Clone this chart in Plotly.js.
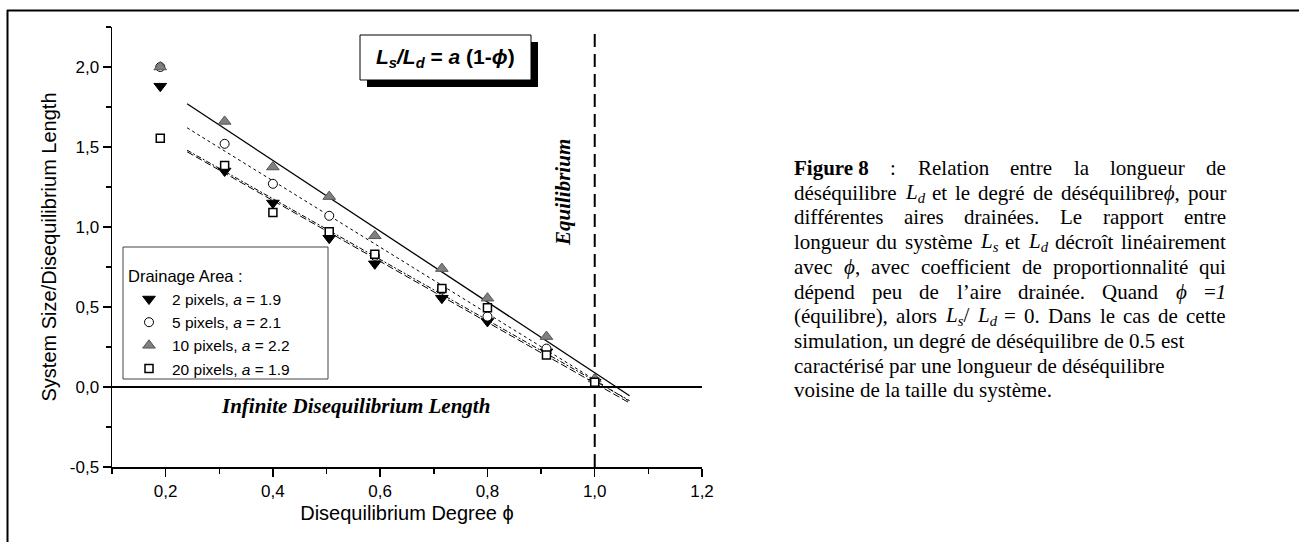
<!DOCTYPE html>
<html>
<head>
<meta charset="utf-8">
<script src="https://cdn.plot.ly/plotly-3.0.1.min.js"></script>
<style>html,body{margin:0;padding:0;background:#fff;} #chart{width:1299px;height:542px;}</style>
</head>
<body>
<div id="chart"></div>
<script>
// ---- data ----
const phi   = [0.19, 0.31, 0.40, 0.505, 0.59, 0.715, 0.80, 0.91, 1.0];
const px2   = [1.88, 1.35, 1.15, 0.93, 0.77, 0.555, 0.41, 0.22, 0.03];
const px5   = [2.00, 1.52, 1.27, 1.07, 0.82, 0.61, 0.44, 0.24, 0.04];
const px10  = [2.00, 1.66, 1.375, 1.19, 0.945, 0.74, 0.555, 0.315, 0.05];
const px20  = [1.555, 1.385, 1.09, 0.97, 0.83, 0.615, 0.495, 0.20, 0.03];
const fitPhi  = [0.24, 1.065];
const fit2    = [1.47, -0.10];
const fit5    = [1.62, -0.09];
const fit10   = [1.77, -0.055];
const fit20   = [1.48, -0.085];
const seriesNames = ["2 pixels, <i>a</i> = 1.9", "5 pixels, <i>a</i> = 2.1", "10 pixels, <i>a</i> = 2.2", "20 pixels, <i>a</i> = 1.9"];
const equilibriumPhi = [1.0, 1.0];
const equilibriumY = [-0.5, 2.25];
const zeroPhi = [0.1, 1.2];
const zeroY = [0, 0];
const xTickVals = [0.2, 0.4, 0.6, 0.8, 1.0, 1.2];
const xTickText = ["0,2", "0,4", "0,6", "0,8", "1,0", "1,2"];
const yTickVals = [-0.5, 0, 0.5, 1.0, 1.5, 2.0];
const yTickText = ["-0,5", "0,0", "0,5", "1,0", "1,5", "2,0"];

const captionJustified = [
  ["<b>Figure 8</b>", ":", "Relation", "entre", "la", "longueur", "de"],
  ["déséquilibre", "<i>L</i><sub><i>d</i></sub>", "et", "le", "degré", "de", "déséquilibre<i>ϕ</i>,", "pour"],
  ["différentes", "aires", "drainées.", "Le", "rapport", "entre"],
  ["longueur", "du", "système", "<i>L</i><sub><i>s</i></sub>", "et", "<i>L</i><sub><i>d</i></sub>", "décroît", "linéairement"],
  ["avec", "<i>ϕ</i>,", "avec", "coefficient", "de", "proportionnalité", "qui"],
  ["dépend", "peu", "de", "l’aire", "drainée.", "Quand", "<i>ϕ</i>", "=<i>1</i>"],
  ["(équilibre),", "alors", "<i>L</i><sub><i>s</i></sub>/", "<i>L</i><sub><i>d</i></sub>", "=", "0.", "Dans", "le", "cas", "de", "cette"]
];
const captionLeft = [
  ["simulation,", "un", "degré", "de", "déséquilibre", "de", "0.5", "est"],
  ["caractérisé", "par", "une", "longueur", "de", "déséquilibre"],
  ["voisine", "de", "la", "taille", "du", "système."]
];

// ---- geometry helpers (pixel -> paper) ----
const W = 1299, H = 542;
const L = 112, R = 702, T = 27, B = 467;
const px = v => (v - L) / (R - L);
const py = v => (B - v) / (B - T);

const SANS = 'Arial, "Liberation Sans", sans-serif';
const SERIF = '"Times New Roman", "Liberation Serif", serif';

const traces = [
  {x: fitPhi, y: fit2, mode: 'lines', line: {color: '#000', width: 1, dash: '7px,3px'}, showlegend: false, hoverinfo: 'skip'},
  {x: fitPhi, y: fit5, mode: 'lines', line: {color: '#000', width: 1, dash: 'dot'}, showlegend: false, hoverinfo: 'skip'},
  {x: fitPhi, y: fit10, mode: 'lines', line: {color: '#000', width: 1.3}, showlegend: false, hoverinfo: 'skip'},
  {x: fitPhi, y: fit20, mode: 'lines', line: {color: '#000', width: 1, dash: '5px,2px,2px,2px'}, showlegend: false, hoverinfo: 'skip'},
  {x: zeroPhi, y: zeroY, mode: 'lines', line: {color: '#000', width: 2}, showlegend: false, hoverinfo: 'skip'},
  {x: equilibriumPhi, y: equilibriumY, mode: 'lines', line: {color: '#000', width: 2, dash: '13px,7px'}, showlegend: false, hoverinfo: 'skip'},
  {x: phi, y: px2, name: seriesNames[0], mode: 'markers',
   marker: {symbol: 'triangle-down', size: 11, color: '#000', line: {color: '#000', width: 1}}},
  {x: phi, y: px5, name: seriesNames[1], mode: 'markers',
   marker: {symbol: 'circle', size: 9, color: '#fff', line: {color: '#000', width: 1}}},
  {x: phi, y: px10, name: seriesNames[2], mode: 'markers',
   marker: {symbol: 'triangle-up', size: 11, color: '#808080', line: {color: '#555', width: 1}}},
  {x: phi, y: px20, name: seriesNames[3], mode: 'markers',
   marker: {symbol: 'square', size: 8, color: '#fff', line: {color: '#000', width: 1.5}}}
];

const shapes = [
  // outer frame (top and left rules)
  {type: 'line', xref: 'paper', yref: 'paper', x0: px(7), x1: px(1299), y0: py(10.5), y1: py(10.5), line: {color: '#000', width: 2}},
  {type: 'line', xref: 'paper', yref: 'paper', x0: px(7.5), x1: px(7.5), y0: py(10), y1: py(542), line: {color: '#000', width: 2}},
  // equation box with shadow
  {type: 'rect', xref: 'paper', yref: 'paper', x0: px(367), x1: px(538), y0: py(87), y1: py(42), fillcolor: '#000', line: {width: 0}},
  {type: 'rect', xref: 'paper', yref: 'paper', x0: px(360), x1: px(531), y0: py(80), y1: py(35), fillcolor: '#fff', line: {color: '#000', width: 1}},
  // legend frame
  {type: 'rect', xref: 'paper', yref: 'paper', layer: 'above', x0: px(123), x1: px(328), y0: py(379), y1: py(247), fillcolor: '#fff', line: {color: '#444', width: 1}}
];

const annotations = [
  {xref: 'paper', yref: 'paper', x: px(445), y: py(58), showarrow: false, xanchor: 'center', yanchor: 'middle',
   text: '<b><i>L</i><sub><i>s</i></sub><i>/L</i><sub><i>d</i></sub> = <i>a</i> (1-<i>ϕ</i>)</b>',
   font: {family: SANS, size: 21, color: '#000'}},
  {xref: 'paper', yref: 'paper', x: px(577), y: py(193), showarrow: false, textangle: -90,
   text: '<b><i>Equilibrium</i></b>', font: {family: SERIF, size: 21, color: '#000'}},
  {xref: 'paper', yref: 'paper', x: px(355), y: py(406), showarrow: false, yanchor: 'middle',
   text: '<b><i>Infinite Disequilibrium Length</i></b>', font: {family: SERIF, size: 21, color: '#000'}}
];

// ---- caption (justified) ----
const capFont = 21, capLeft = 793, capRight = 1225, capTop = 168, capStep = 24.7;
const cv = document.createElement('canvas').getContext('2d');
function measure(tok) {
  let b = false, i = false, sub = false, w = 0;
  const re = /<(\/?)(b|i|sub)>|([^<]+)/g; let m;
  while ((m = re.exec(tok)) !== null) {
    if (m[2]) {
      const on = m[1] !== '/';
      if (m[2] === 'b') b = on; else if (m[2] === 'i') i = on; else sub = on;
    } else {
      const s = sub ? capFont * 0.7 : capFont;
      cv.font = (i ? 'italic ' : '') + (b ? 'bold ' : '') + s + 'px "Liberation Serif"';
      w += cv.measureText(m[3]).width;
    }
  }
  return w;
}
function addLine(tokens, row, justify) {
  const widths = tokens.map(measure);
  const total = widths.reduce((a, c) => a + c, 0);
  const gap = justify ? (capRight - capLeft - total) / (tokens.length - 1) : capFont * 0.25;
  let x = capLeft;
  tokens.forEach((t, k) => {
    annotations.push({xref: 'paper', yref: 'paper', x: px(x - 1), y: py(capTop + capStep * row),
      xanchor: 'left', yanchor: 'middle', showarrow: false, text: t,
      font: {family: SERIF, size: capFont, color: '#000'}});
    x += widths[k] + gap;
  });
}
captionJustified.forEach((t, r) => addLine(t, r, true));
captionLeft.forEach((t, r) => addLine(t, r + captionJustified.length, false));

const axisCommon = {
  showgrid: false, zeroline: false, showline: true, linecolor: '#000', linewidth: 1.5,
  ticks: 'outside', ticklen: 8, tickwidth: 1.5, tickcolor: '#000',
  tickfont: {family: SANS, size: 17, color: '#000'}
};

const layout = {
  width: W, height: H,
  margin: {l: L, r: W - R, t: T, b: H - B, pad: 0},
  paper_bgcolor: '#fff', plot_bgcolor: '#fff',
  showlegend: true,
  legend: {
    x: px(126), y: py(261), xanchor: 'left', yanchor: 'top',
    bgcolor: 'rgba(0,0,0,0)', borderwidth: 0,
    font: {family: SANS, size: 15.5, color: '#000'},
    title: {text: 'Drainage Area :', font: {family: SANS, size: 16.5, color: '#000'}},
    itemwidth: 36,
    tracegroupgap: 0
  },
  xaxis: Object.assign({}, axisCommon, {
    range: [0.1, 1.2], tickmode: 'array', tickvals: xTickVals, ticktext: xTickText,
    minor: {tick0: 0.1, dtick: 0.1, ticks: 'outside', ticklen: 5, tickwidth: 1.5, tickcolor: '#000'},
    title: {text: 'Disequilibrium Degree ϕ', font: {family: SANS, size: 20, color: '#000'}, standoff: 6}
  }),
  yaxis: Object.assign({}, axisCommon, {
    range: [-0.5, 2.25], tickmode: 'array', tickvals: yTickVals, ticktext: yTickText,
    minor: {tick0: 0, dtick: 0.25, ticks: 'outside', ticklen: 5, tickwidth: 1.5, tickcolor: '#000'},
    title: {text: 'System Size/Disequilibrium Length', font: {family: SANS, size: 20, color: '#000'}, standoff: 8}
  }),
  shapes: shapes,
  annotations: annotations
};

Plotly.newPlot('chart', traces, layout, {displayModeBar: false, staticPlot: true});
</script>
</body>
</html>
